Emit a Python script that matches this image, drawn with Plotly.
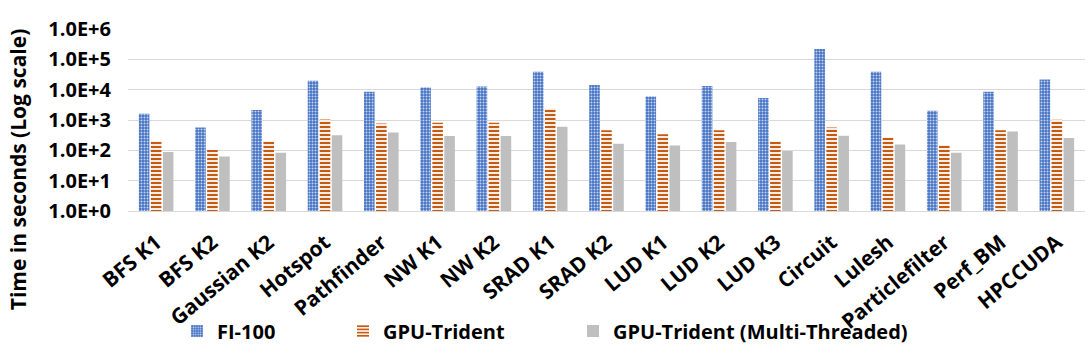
import plotly.graph_objects as go

categories = ["BFS K1", "BFS K2", "Gaussian K2", "Hotspot", "Pathfinder", "NW K1", "NW K2",
              "SRAD K1", "SRAD K2", "LUD K1", "LUD K2", "LUD K3", "Circuit", "Lulesh",
              "Particlefilter", "Perf_BM", "HPCCUDA"]
fi100 = [1600, 570, 2150, 19500, 8600, 11700, 12600, 39000, 14200, 6000, 13200, 5350,
         220000, 39000, 2000, 8600, 21800]
gpu_trident = [200, 102, 200, 1040, 770, 810, 810, 2400, 455, 340, 455, 200, 570, 267,
               149, 455, 1020]
gpu_trident_mt = [88, 63, 84, 317, 390, 295, 295, 600, 166, 145, 187, 95, 302, 157, 84,
                  420, 253]
series_names = ["FI-100", "GPU-Trident", "GPU-Trident (Multi-Threaded)"]
tick_vals = [1, 10, 100, 1000, 10000, 100000, 1000000]
tick_text = ["1.0E+0", "1.0E+1", "1.0E+2", "1.0E+3", "1.0E+4", "1.0E+5", "1.0E+6"]
y_title = "Time in seconds (Log scale)"

FONT = "Open Sans"
L, R, T, B = 128, 5, 29, 142
W, H = 1090, 354
PW = W - L - R
PH = H - T - B


def px_x(px):
    return (px - L) / PW


def px_y(py):
    return (H - B - py) / PH


legend_font = dict(family=FONT, size=20, color="#000000", weight="bold")

fig = go.Figure()
fig.add_trace(go.Bar(
    x=categories, y=fi100, name=series_names[0], legend="legend",
    marker=dict(color="#4472C4", line=dict(width=0),
                pattern=dict(shape=".", fgcolor="#C9D6F0", bgcolor="#4472C4",
                             size=3, solidity=0.35, fillmode="replace")),
))
fig.add_trace(go.Bar(
    x=categories, y=gpu_trident, name=series_names[1], legend="legend2",
    marker=dict(color="#C55A11", line=dict(width=0),
                pattern=dict(shape="-", fgcolor="#C55A11", bgcolor="#FFFFFF",
                             size=4, solidity=0.55, fillmode="replace")),
))
fig.add_trace(go.Bar(
    x=categories, y=gpu_trident_mt, name=series_names[2], legend="legend3",
    marker=dict(color="#BFBFBF", line=dict(width=0)),
))

leg_common = dict(orientation="h", xanchor="left", yanchor="middle", y=px_y(331),
                  font=legend_font, itemwidth=30, bgcolor="rgba(0,0,0,0)")
fig.update_layout(
    width=W, height=H,
    margin=dict(l=L, r=R, t=T, b=B),
    paper_bgcolor="white", plot_bgcolor="white",
    barmode="group", bargap=0.36, bargroupgap=0.12,
    font=dict(family=FONT, color="#000000"),
    showlegend=True,
    legend=dict(x=px_x(177), **leg_common),
    legend2=dict(x=px_x(343), **leg_common),
    legend3=dict(x=px_x(573), **leg_common),
)
fig.add_annotation(
    text=y_title, textangle=-90, xref="paper", yref="paper",
    x=px_x(18), y=px_y(170), xanchor="center", yanchor="middle", showarrow=False,
    font=dict(family=FONT, size=21, color="#000000", weight="bold"),
)
fig.update_yaxes(
    type="log", range=[0, 6], tickvals=tick_vals, ticktext=tick_text,
    tickfont=dict(family=FONT, size=20, color="#000000", weight="bold"),
    showgrid=True, gridcolor="#D9D9D9", gridwidth=1, zeroline=False,
    showline=False, ticks="", ticklabelstandoff=16,
)
fig.update_xaxes(
    tickangle=-40, ticklabelstandoff=10,
    tickfont=dict(family=FONT, size=21, color="#000000", weight="bold"),
    showline=True, linecolor="#D9D9D9", linewidth=1, ticks="",
    showgrid=False, automargin=False,
)

fig.write_html("out.html")
